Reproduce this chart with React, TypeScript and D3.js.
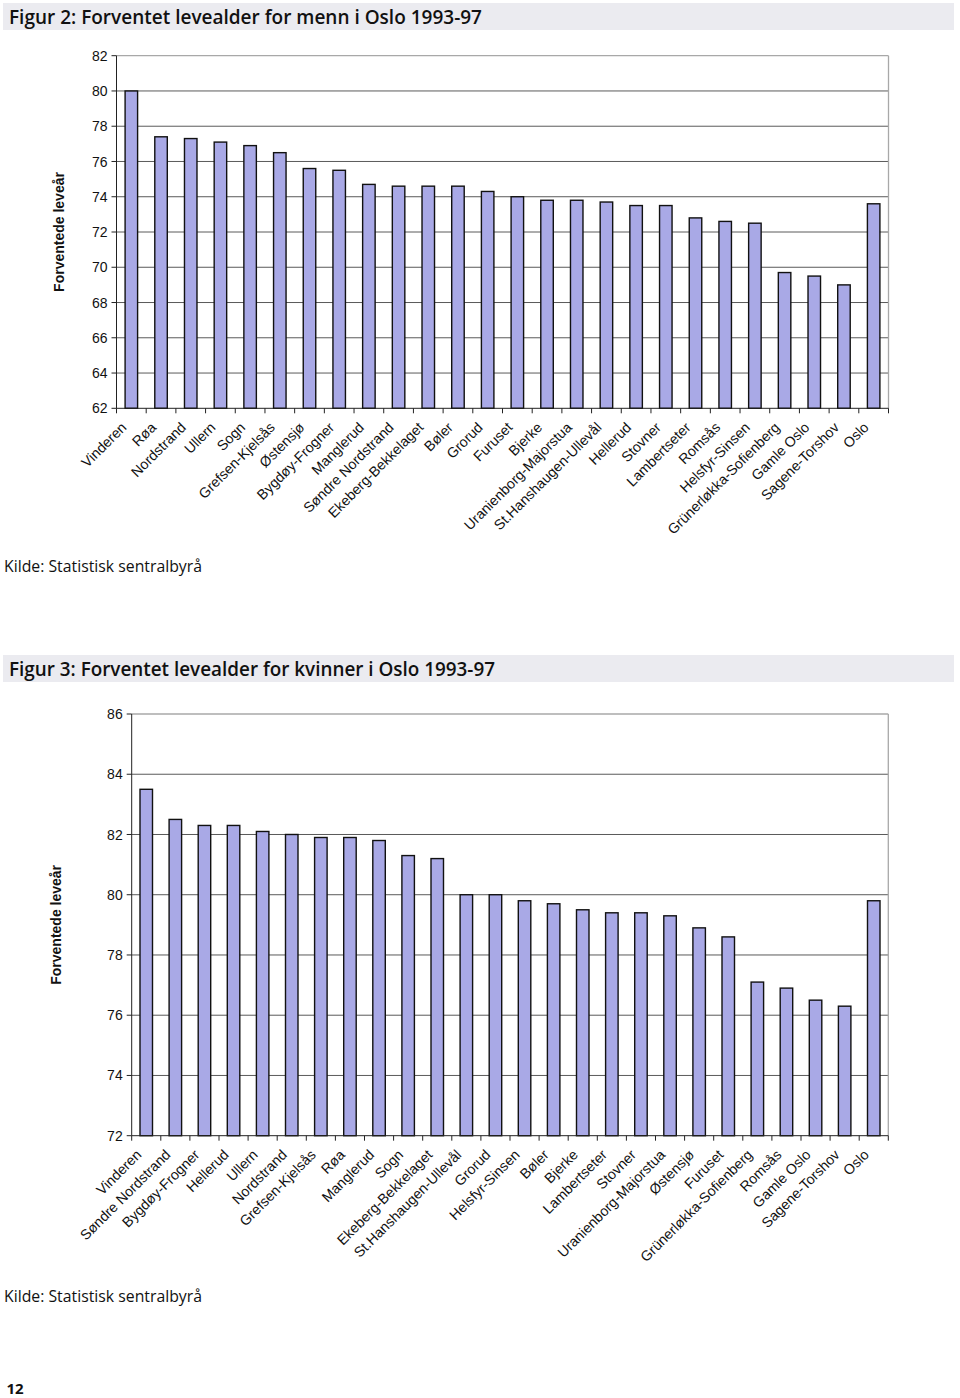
import React from "react";
import * as d3 from "d3";

const menCategories = [
  "Vinderen", "Røa", "Nordstrand", "Ullern", "Sogn", "Grefsen-Kjelsås", "Østensjø",
  "Bygdøy-Frogner", "Manglerud", "Søndre Nordstrand", "Ekeberg-Bekkelaget", "Bøler",
  "Grorud", "Furuset", "Bjerke", "Uranienborg-Majorstua", "St.Hanshaugen-Ullevål",
  "Hellerud", "Stovner", "Lambertseter", "Romsås", "Helsfyr-Sinsen",
  "Grünerløkka-Sofienberg", "Gamle Oslo", "Sagene-Torshov", "Oslo",
];
const menValues = [
  80.0, 77.4, 77.3, 77.1, 76.9, 76.5, 75.6, 75.5, 74.7, 74.6, 74.6, 74.6, 74.3,
  74.0, 73.8, 73.8, 73.7, 73.5, 73.5, 72.8, 72.6, 72.5, 69.7, 69.5, 69.0, 73.6,
];
const menTicks = [62, 64, 66, 68, 70, 72, 74, 76, 78, 80, 82];

const womenCategories = [
  "Vinderen", "Søndre Nordstrand", "Bygdøy-Frogner", "Hellerud", "Ullern", "Nordstrand",
  "Grefsen-Kjelsås", "Røa", "Manglerud", "Sogn", "Ekeberg-Bekkelaget",
  "St.Hanshaugen-Ullevål", "Grorud", "Helsfyr-Sinsen", "Bøler", "Bjerke", "Lambertseter",
  "Stovner", "Uranienborg-Majorstua", "Østensjø", "Furuset", "Grünerløkka-Sofienberg",
  "Romsås", "Gamle Oslo", "Sagene-Torshov", "Oslo",
];
const womenValues = [
  83.5, 82.5, 82.3, 82.3, 82.1, 82.0, 81.9, 81.9, 81.8, 81.3, 81.2, 80.0, 80.0,
  79.8, 79.7, 79.5, 79.4, 79.4, 79.3, 78.9, 78.6, 77.1, 76.9, 76.5, 76.3, 79.8,
];
const womenTicks = [72, 74, 76, 78, 80, 82, 84, 86];

const yTitle = "Forventede leveår";
const source = "Kilde: Statistisk sentralbyrå";
const title2 = "Figur 2: Forventet levealder for menn i Oslo 1993-97";
const title3 = "Figur 3: Forventet levealder for kvinner i Oslo 1993-97";
const pageNo = "12";

const BAR_FILL = "#a9a9e6";
const GRID = "#5a5a5a";
const BORDER = "#a8a8a8";
const AXIS_FONT = "Liberation Sans, Arial, sans-serif";
const TITLE_FONT = "Open Sans, Noto Sans, sans-serif";

type ChartProps = {
  cats: string[];
  vals: number[];
  ticks: number[];
  left: number;
  right: number;
  top: number;
  bottom: number;
  titleX: number;
};

function BarChart({ cats, vals, ticks, left, right, top, bottom, titleX }: ChartProps) {
  const x = d3.scaleBand<string>().domain(cats).range([left, right]).padding(0);
  const y = d3
    .scaleLinear()
    .domain([ticks[0], ticks[ticks.length - 1]])
    .range([bottom, top]);
  const bw = 12.5;
  const bounds = cats.map((c) => x(c)!).concat([right]);
  return (
    <g>
      {ticks.map((t, i) => {
        const isTop = i === ticks.length - 1;
        return (
          <g key={t}>
            {i > 0 && (
              <line
                x1={left}
                x2={right}
                y1={y(t)}
                y2={y(t)}
                stroke={isTop ? BORDER : GRID}
                strokeWidth={isTop ? 1.3 : 1}
              />
            )}
            <line x1={left - 5} x2={left} y1={y(t)} y2={y(t)} stroke="#222" strokeWidth={1} />
            <text
              x={left - 9}
              y={y(t)}
              dy="0.36em"
              textAnchor="end"
              fontFamily={AXIS_FONT}
              fontSize={14}
              fill="#111"
            >
              {t}
            </text>
          </g>
        );
      })}
      <line x1={right} x2={right} y1={top} y2={bottom} stroke={BORDER} strokeWidth={1.3} />
      {cats.map((c, i) => {
        const cx = x(c)! + x.bandwidth() / 2;
        return (
          <rect
            key={c + i}
            x={cx - bw / 2}
            y={y(vals[i])}
            width={bw}
            height={bottom - y(vals[i])}
            fill={BAR_FILL}
            stroke="#111"
            strokeWidth={1.4}
          />
        );
      })}
      <line x1={left} x2={left} y1={top} y2={bottom} stroke="#222" strokeWidth={1} />
      <line x1={left} x2={right} y1={bottom} y2={bottom} stroke="#222" strokeWidth={1} />
      {bounds.map((b, i) => (
        <line key={i} x1={b} x2={b} y1={bottom} y2={bottom + 5} stroke="#222" strokeWidth={1} />
      ))}
      {cats.map((c, i) => {
        const cx = x(c)! + x.bandwidth() / 2;
        return (
          <text
            key={"l" + c + i}
            transform={`translate(${cx - 4},${bottom + 20}) rotate(-45)`}
            textAnchor="end"
            fontFamily={AXIS_FONT}
            fontSize={14.2}
            fill="#111"
          >
            {c}
          </text>
        );
      })}
      <text
        transform={`translate(${titleX},${(top + bottom) / 2}) rotate(-90)`}
        textAnchor="middle"
        dy="0.35em"
        fontFamily={AXIS_FONT}
        fontWeight="bold"
        fontSize={14}
        fill="#111"
      >
        {yTitle}
      </text>
    </g>
  );
}

function TitleBar({ y, text, width }: { y: number; text: string; width: number }) {
  return (
    <g>
      <rect x={3} y={y} width={951} height={27} fill="#ebebf0" />
      <text
        x={9}
        y={y + 21}
        fontFamily={TITLE_FONT}
        fontSize={19.5}
        fontWeight={600}
        fill="#111"
        textLength={width}
        lengthAdjust="spacingAndGlyphs"
      >
        {text}
      </text>
    </g>
  );
}

export default function App() {
  return (
    <svg
      width={960}
      height={1398}
      style={{ position: "absolute", left: 0, top: 0, background: "#fff" }}
    >
      <rect x={0} y={0} width={960} height={1398} fill="#fff" />
      <TitleBar y={3} text={title2} width={473} />
      <BarChart
        cats={menCategories}
        vals={menValues}
        ticks={menTicks}
        left={116.5}
        right={888.5}
        top={55.7}
        bottom={408.3}
        titleX={59}
      />
      <text x={4} y={571.5} fontFamily={TITLE_FONT} fontSize={15.5} fill="#111" textLength={198} lengthAdjust="spacingAndGlyphs">
        {source}
      </text>

      <TitleBar y={655} text={title3} width={486} />
      <BarChart
        cats={womenCategories}
        vals={womenValues}
        ticks={womenTicks}
        left={131.7}
        right={888.3}
        top={714}
        bottom={1135.7}
        titleX={56}
      />
      <text x={4} y={1301.5} fontFamily={TITLE_FONT} fontSize={15.5} fill="#111" textLength={198} lengthAdjust="spacingAndGlyphs">
        {source}
      </text>
      <text x={6.5} y={1394} fontFamily={TITLE_FONT} fontSize={15} fontWeight="bold" fill="#111">
        {pageNo}
      </text>
    </svg>
  );
}
